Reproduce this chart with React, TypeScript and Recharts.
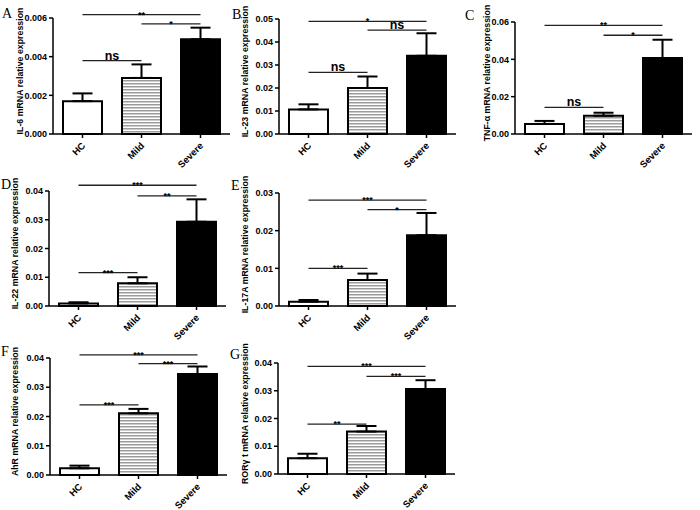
import React from 'react';
import { BarChart, Bar, XAxis, YAxis, Cell, ErrorBar, ReferenceLine } from 'recharts';

const groups = ['HC', 'Mild', 'Severe'];
const fills = ['#ffffff', 'url(#hstripe)', '#000000'];

// A: IL-6
const il6Mean = [0.0017, 0.0029, 0.0049];
const il6Top = [0.0021, 0.0036, 0.0055];
const il6Ticks = [0, 0.002, 0.004, 0.006];
const il6Sig = [
  { from: 'HC', to: 'Mild', y: 0.0038, text: 'ns' },
  { from: 'Mild', to: 'Severe', y: 0.0057, text: '*' },
  { from: 'HC', to: 'Severe', y: 0.00617, text: '**' },
];

// B: IL-23
const il23Mean = [0.0107, 0.02, 0.034];
const il23Top = [0.0129, 0.025, 0.0438];
const il23Ticks = [0, 0.01, 0.02, 0.03, 0.04, 0.05];
const il23Sig = [
  { from: 'HC', to: 'Mild', y: 0.0268, text: 'ns' },
  { from: 'Mild', to: 'Severe', y: 0.0452, text: 'ns' },
  { from: 'HC', to: 'Severe', y: 0.049, text: '*' },
];

// C: TNF-α
const tnfMean = [0.0054, 0.0098, 0.0407];
const tnfTop = [0.007, 0.0114, 0.0505];
const tnfTicks = [0, 0.02, 0.04, 0.06];
const tnfSig = [
  { from: 'HC', to: 'Mild', y: 0.0143, text: 'ns' },
  { from: 'Mild', to: 'Severe', y: 0.0529, text: '*' },
  { from: 'HC', to: 'Severe', y: 0.0582, text: '**' },
];

// D: IL-22
const il22Mean = [0.0009, 0.0079, 0.0293];
const il22Top = [0.0013, 0.01, 0.0371];
const il22Ticks = [0, 0.01, 0.02, 0.03, 0.04];
const il22Sig = [
  { from: 'HC', to: 'Mild', y: 0.0116, text: '***' },
  { from: 'Mild', to: 'Severe', y: 0.0383, text: '**' },
  { from: 'HC', to: 'Severe', y: 0.042, text: '***' },
];

// E: IL-17A
const il17Mean = [0.00115, 0.0069, 0.0188];
const il17Top = [0.0016, 0.0086, 0.0247];
const il17Ticks = [0, 0.01, 0.02, 0.03];
const il17Sig = [
  { from: 'HC', to: 'Mild', y: 0.01, text: '***' },
  { from: 'Mild', to: 'Severe', y: 0.0256, text: '*' },
  { from: 'HC', to: 'Severe', y: 0.0281, text: '***' },
];

// F: AhR
const ahrMean = [0.0023, 0.0211, 0.0345];
const ahrTop = [0.0032, 0.0226, 0.0371];
const ahrTicks = [0, 0.01, 0.02, 0.03, 0.04];
const ahrSig = [
  { from: 'HC', to: 'Mild', y: 0.024, text: '***' },
  { from: 'Mild', to: 'Severe', y: 0.0381, text: '***' },
  { from: 'HC', to: 'Severe', y: 0.0411, text: '***' },
];

// G: RORγt
const rorMean = [0.0057, 0.0153, 0.0306];
const rorTop = [0.0073, 0.0173, 0.0338];
const rorTicks = [0, 0.01, 0.02, 0.03, 0.04];
const rorSig = [
  { from: 'HC', to: 'Mild', y: 0.018, text: '**' },
  { from: 'Mild', to: 'Severe', y: 0.0352, text: '***' },
  { from: 'HC', to: 'Severe', y: 0.0388, text: '***' },
];

const FONT = '"Liberation Sans", Arial, sans-serif';
const YW = 50;
const MT = 28;
const XH = 46;
const MR = 14;
const PLOTW = 177;

const XTick = (props: any) => {
  const { x, y, payload } = props;
  return (
    <g transform={`translate(${x + 1},${y + 4})`}>
      <text
        x={0}
        y={0}
        dy="0.35em"
        textAnchor="end"
        transform="rotate(-45)"
        fontSize={9.5}
        fontWeight="bold"
        fontFamily={FONT}
        fill="#000"
      >
        {payload.value}
      </text>
    </g>
  );
};

type Sig = { from: string; to: string; y: number; text: string };

function Panel(p: {
  x0: number;
  yTop: number;
  yBot: number;
  ticks: number[];
  dec: number;
  title: string;
  labelX: number;
  mean: number[];
  top: number[];
  sig: Sig[];
}) {
  const plotH = p.yBot - p.yTop;
  const width = YW + PLOTW + MR;
  const height = MT + plotH + XH;
  const data = groups.map((g, i) => ({ g, v: p.mean[i], e: [0, p.top[i] - p.mean[i]] }));
  const yMax = p.ticks[p.ticks.length - 1];
  return (
    <div style={{ position: 'absolute', left: p.x0 - YW, top: p.yTop - MT, width, height }}>
      <BarChart
        width={width}
        height={height}
        data={data}
        margin={{ top: MT, right: MR, bottom: 0, left: 0 }}
      >
        <XAxis
          dataKey="g"
          interval={0}
          height={XH}
          tickSize={4}
          tick={<XTick />}
          axisLine={{ stroke: '#000', strokeWidth: 1.5 }}
          tickLine={{ stroke: '#000', strokeWidth: 1.5 }}
        />
        <YAxis
          width={YW}
          domain={[0, yMax]}
          ticks={p.ticks}
          interval={0}
          tickSize={4}
          tickMargin={2}
          tickFormatter={(v: number) => v.toFixed(p.dec)}
          tick={{ fontSize: 9, fontWeight: 'bold', fill: '#000', fontFamily: FONT }}
          axisLine={{ stroke: '#000', strokeWidth: 1.5 }}
          tickLine={{ stroke: '#000', strokeWidth: 1.5 }}
          label={{
            value: p.title,
            angle: -90,
            position: 'center',
            dx: p.labelX - p.x0 + YW / 2,
            dy: -5,
            fontSize: 8.8,
            fontWeight: 'bold',
            fill: '#000',
            fontFamily: FONT,
          }}
        />
        <Bar dataKey="v" barSize={39} stroke="#000" strokeWidth={2} isAnimationActive={false}>
          {data.map((d, i) => (
            <Cell key={d.g} fill={fills[i]} />
          ))}
          <ErrorBar dataKey="e" width={10} stroke="#000" strokeWidth={2} direction="y" isAnimationActive={false} />
        </Bar>
        {p.sig.map((s, i) => (
          <ReferenceLine
            key={i}
            segment={[
              { x: s.from, y: s.y },
              { x: s.to, y: s.y },
            ]}
            stroke="#222"
            strokeWidth={1.3}
            ifOverflow="visible"
            label={{
              value: s.text,
              position: 'top',
              offset: s.text === 'ns' ? 1 : -3,
              fontSize: s.text === 'ns' ? 12.5 : 9,
              fontWeight: 'bold',
              fill: '#000',
              fontFamily: FONT,
            }}
          />
        ))}
      </BarChart>
    </div>
  );
}

const letters = [
  { t: 'A', x: 2, y: 18 },
  { t: 'B', x: 232, y: 19 },
  { t: 'C', x: 465, y: 20 },
  { t: 'D', x: 1, y: 189 },
  { t: 'E', x: 231, y: 190 },
  { t: 'F', x: 1, y: 356 },
  { t: 'G', x: 230, y: 359 },
];

export default function App() {
  return (
    <div style={{ position: 'absolute', left: 0, top: 0, width: 700, height: 510, background: '#fff', overflow: 'hidden' }}>
      <svg width={0} height={0} style={{ position: 'absolute' }}>
        <defs>
          <pattern id="hstripe" patternUnits="userSpaceOnUse" width={6} height={3}>
            <rect x={0} y={0} width={6} height={3} fill="#ffffff" />
            <rect x={0} y={0} width={6} height={1.5} fill="#9c9c9c" />
          </pattern>
        </defs>
      </svg>
      <Panel x0={53} yTop={18} yBot={134} ticks={il6Ticks} dec={3} title="IL-6 mRNA relative expression" labelX={20} mean={il6Mean} top={il6Top} sig={il6Sig} />
      <Panel x0={279} yTop={19} yBot={134} ticks={il23Ticks} dec={2} title="IL-23 mRNA relative expression" labelX={245} mean={il23Mean} top={il23Top} sig={il23Sig} />
      <Panel x0={515} yTop={22} yBot={134} ticks={tnfTicks} dec={2} title="TNF-α  mRNA relative expression" labelX={487} mean={tnfMean} top={tnfTop} sig={tnfSig} />
      <Panel x0={49} yTop={191} yBot={306} ticks={il22Ticks} dec={2} title="IL-22 mRNA relative expression" labelX={15} mean={il22Mean} top={il22Top} sig={il22Sig} />
      <Panel x0={279} yTop={193} yBot={306} ticks={il17Ticks} dec={2} title="IL-17A mRNA relative expression" labelX={245} mean={il17Mean} top={il17Top} sig={il17Sig} />
      <Panel x0={50} yTop={358} yBot={475} ticks={ahrTicks} dec={2} title="AhR mRNA relative expression" labelX={15} mean={ahrMean} top={ahrTop} sig={ahrSig} />
      <Panel x0={278} yTop={363} yBot={474} ticks={rorTicks} dec={2} title="RORγ t mRNA relative expression" labelX={245} mean={rorMean} top={rorTop} sig={rorSig} />
      <svg width={700} height={510} style={{ position: 'absolute', left: 0, top: 0, pointerEvents: 'none' }}>
        {letters.map((l) => (
          <text key={l.t} x={l.x} y={l.y} fontSize={14} fontFamily='"Liberation Serif", "Times New Roman", serif' fill="#000">
            {l.t}
          </text>
        ))}
      </svg>
    </div>
  );
}
